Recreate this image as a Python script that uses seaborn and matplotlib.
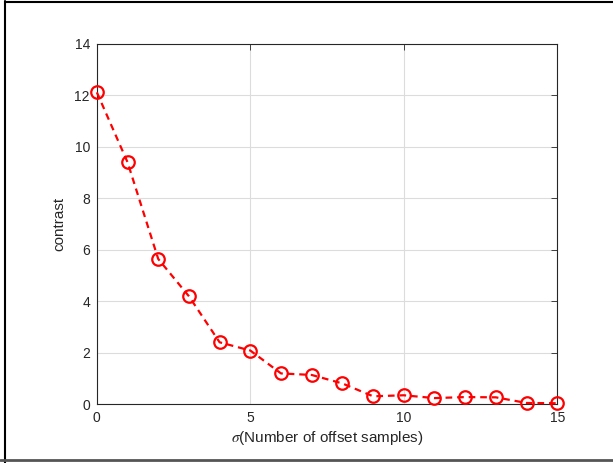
import matplotlib
matplotlib.use("Agg")
import matplotlib.pyplot as plt
import seaborn as sns
import pandas as pd
from matplotlib.lines import Line2D

# values
offsets = list(range(16))
contrast = [12.12, 9.40, 5.64, 4.19, 2.40, 2.08, 1.19, 1.13, 0.80, 0.30,
            0.34, 0.23, 0.27, 0.26, 0.04, 0.03]
x_ticks = [0, 5, 10, 15]
y_ticks = [0, 2, 4, 6, 8, 10, 12, 14]

df = pd.DataFrame({"offset": offsets, "contrast": contrast})

sns.set_style("white")
plt.rcParams["font.family"] = ["Liberation Sans", "DejaVu Sans"]
plt.rcParams["mathtext.fontset"] = "stix"

fig = plt.figure(figsize=(6.13, 4.63), dpi=100)
ax = fig.add_axes([0.158, 0.1274, 0.751, 0.7776])

sns.lineplot(data=df, x="offset", y="contrast", ax=ax, color="red",
             linestyle=(0, (3, 2.2)), linewidth=1.6, marker="o", markersize=9,
             markerfacecolor="none", markeredgecolor="red",
             markeredgewidth=1.6, clip_on=False, zorder=3)

ax.set_xlim(0, 15)
ax.set_ylim(0, 14)
ax.set_xticks(x_ticks)
ax.set_yticks(y_ticks)
ax.grid(True, color="#dcdcdc", linewidth=0.8)
ax.set_axisbelow(True)
for s in ax.spines.values():
    s.set_color("#262626")
    s.set_linewidth(0.8)
ax.tick_params(axis="both", labelsize=10, colors="#262626", direction="in",
               length=4, width=0.6, top=True, right=True, pad=5)
ax.set_xlabel(r"$\sigma$(Number of offset samples)", fontsize=11,
              color="#262626", labelpad=3)
ax.set_ylabel("contrast", fontsize=11, color="#262626", labelpad=6)

# screenshot frame around the figure
W, H = 613, 463
fig.add_artist(Line2D([5 / W, 5 / W], [0, 1 - 1 / H], transform=fig.transFigure,
                      color="black", linewidth=1.5))
fig.add_artist(Line2D([5 / W, 1], [1 - 1.5 / H, 1 - 1.5 / H], transform=fig.transFigure,
                      color="black", linewidth=1.5))
fig.add_artist(Line2D([0, 1], [3 / H, 3 / H], transform=fig.transFigure,
                      color="#555555", linewidth=2))

fig.savefig("out.png", dpi=100)
